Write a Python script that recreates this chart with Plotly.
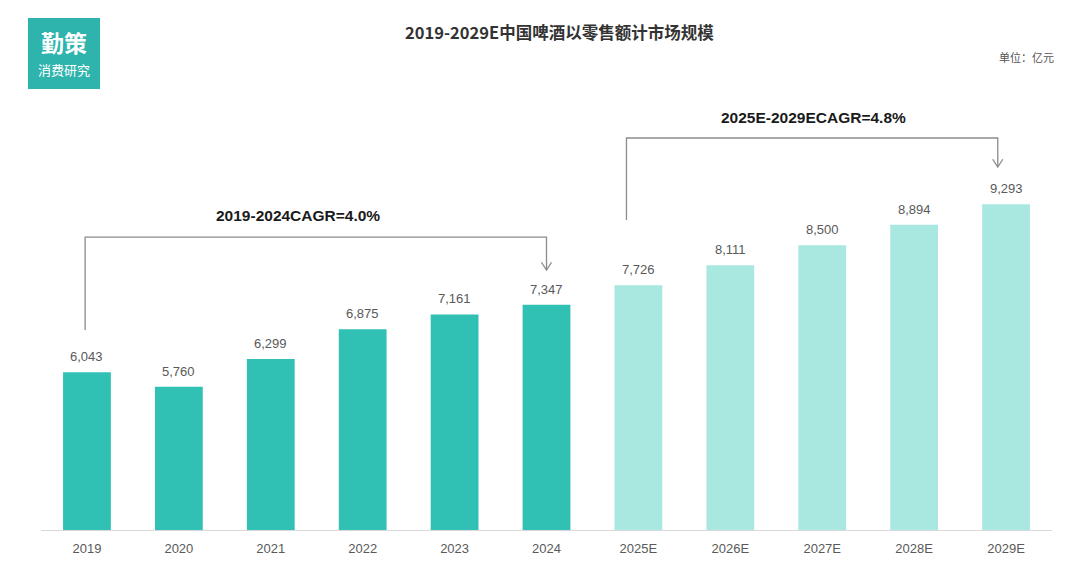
import plotly.graph_objects as go

categories = ["2019", "2020", "2021", "2022", "2023", "2024",
              "2025E", "2026E", "2027E", "2028E", "2029E"]
values = [6043, 5760, 6299, 6875, 7161, 7347, 7726, 8111, 8500, 8894, 9293]
is_forecast = [False] * 6 + [True] * 5

cagr_labels = ["2019-2024CAGR=4.0%", "2025E-2029ECAGR=4.8%"]

title_text = "2019-2029E中国啤酒以零售额计市场规模"
unit_text = "单位：亿元"
logo_main = "勤策"
logo_sub = "消费研究"

DARK = "#30C1B4"
LIGHT = "#A9E8E1"
LOGO = "#2FB4AD"
FONT = "Noto Sans CJK SC"
LAT = "Liberation Sans, Arial"

colors = [LIGHT if f else DARK for f in is_forecast]
idx = list(range(len(categories)))

fig = go.Figure()
fig.add_trace(go.Bar(
    x=idx, y=values, width=0.52,
    marker=dict(color=colors, line=dict(width=0)),
    hoverinfo="skip",
))

Y0, Y1 = 2990, 11309


def px(xpage):
    return (xpage - 41) / 1011


def py(ypage):
    return (530 - ypage) / 430


shapes = []
annotations = []

# value labels above bars
for i, v in zip(idx, values):
    annotations.append(dict(x=i, y=v, xref="x", yref="y", text=f"{v:,}",
                            showarrow=False, xanchor="center", yanchor="bottom",
                            yshift=6,
                            font=dict(size=13, color="#595959", family=LAT)))

# brackets: (x_start, x_end, y_start, y_top, y_tip, text_x, text_y)
brackets = [
    (-0.02, 5.0, 6859, 8658, 8020, 2.3, 9065),
    (5.87, 9.91, 8987, 10574, 10013, 7.9, 10980),
]
line_style = dict(color="#8C8C8C", width=1.3)
ah_w = 0.055
ah_h = 150
for (xs, xe, ys, yt, ytip, tx, ty), lab in zip(brackets, cagr_labels):
    shapes.append(dict(type="path", xref="x", yref="y",
                       path=f"M {xs},{ys} L {xs},{yt} L {xe},{yt} L {xe},{ytip}",
                       line=line_style))
    shapes.append(dict(type="path", xref="x", yref="y",
                       path=f"M {xe-ah_w},{ytip+ah_h} L {xe},{ytip} L {xe+ah_w},{ytip+ah_h}",
                       line=line_style))
    annotations.append(dict(x=tx, y=ty, xref="x", yref="y", text=f"<b>{lab}</b>",
                            showarrow=False, xanchor="center", yanchor="middle",
                            font=dict(size=15.5, color="#1a1a1a", family=LAT)))

# logo
shapes.append(dict(type="rect", xref="paper", yref="paper",
                   x0=px(28), x1=px(100), y0=py(89), y1=py(18),
                   fillcolor=LOGO, line=dict(width=0), layer="below"))
annotations.append(dict(x=px(64), y=py(42), xref="paper", yref="paper",
                        text=f"<b>{logo_main}</b>", showarrow=False,
                        xanchor="center", yanchor="middle",
                        font=dict(size=23, color="white", family=FONT)))
annotations.append(dict(x=px(64), y=py(69), xref="paper", yref="paper",
                        text=logo_sub, showarrow=False,
                        xanchor="center", yanchor="middle",
                        font=dict(size=13, color="white", family=FONT)))
# title
annotations.append(dict(x=px(559), y=py(32), xref="paper", yref="paper",
                        text=f"<b>{title_text}</b>", showarrow=False,
                        xanchor="center", yanchor="middle",
                        font=dict(size=16.5, color="#333333", family=FONT)))
annotations.append(dict(x=px(1056), y=py(57), xref="paper", yref="paper",
                        text=unit_text, showarrow=False, xanchor="right", yanchor="middle",
                        font=dict(size=11, color="#555555", family=FONT)))

# page has an 8px body margin; figure sized to fit inside the window
fig.update_layout(
    width=1072, height=572,
    margin=dict(l=33, r=28, t=92, b=50),
    paper_bgcolor="white", plot_bgcolor="white",
    showlegend=False,
    shapes=shapes, annotations=annotations,
    font=dict(family=FONT),
)
fig.update_xaxes(
    tickmode="array", tickvals=idx, ticktext=categories,
    range=[-0.5, len(categories) - 0.5],
    showline=True, linecolor="#D9D9D9", linewidth=1,
    showgrid=False, zeroline=False, ticks="", ticklabelstandoff=6,
    tickfont=dict(size=13, color="#595959", family=LAT),
)
fig.update_yaxes(range=[Y0, Y1], visible=False, showgrid=False, zeroline=False)

fig.write_html("out.html")
